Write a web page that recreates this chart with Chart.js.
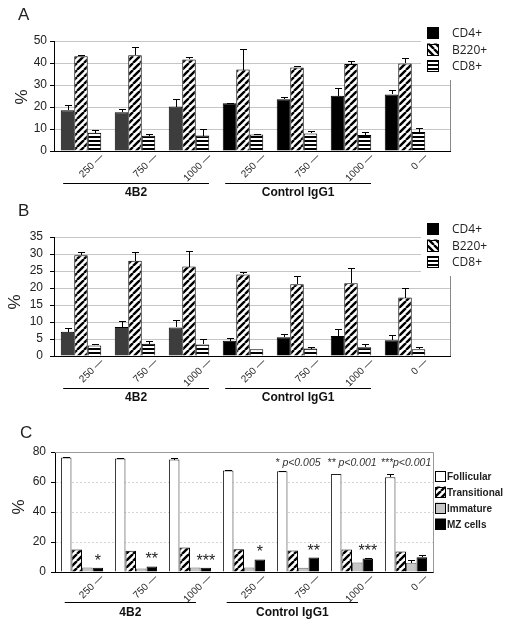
<!DOCTYPE html>
<html>
<head>
<meta charset="utf-8">
<script src="https://cdn.jsdelivr.net/npm/chart.js@4.4.1/dist/chart.umd.min.js"></script>
<style>
  html, body { margin: 0; padding: 0; background: #fff; }
  #wrap { position: relative; width: 512px; height: 629px; overflow: hidden; }
  canvas { position: absolute; left: 0; }
</style>
</head>
<body>
<div id="wrap">
  <canvas id="chartA" width="512" height="200" style="top:0"></canvas>
  <canvas id="chartB" width="512" height="215" style="top:196px"></canvas>
  <canvas id="chartC" width="512" height="229" style="top:400px"></canvas>
</div>
<script>
// DATA //

const doses = ['250 —', '750 —', '1000 —', '250 —', '750 —', '1000 —', '0 —'];
const groups = [
  { label: '4B2', from: 0, to: 2 },
  { label: 'Control IgG1', from: 3, to: 5 }
];

// panel A
const cd4A = [18.5, 17.6, 20.2, 21.7, 23.5, 25.1, 25.7];
const cd4ErrA = [2.5, 1.7, 3.6, 0.3, 1.2, 3.4, 1.9];
const b220A = [43.1, 43.5, 41.6, 37.0, 38.0, 39.5, 39.8];
const b220ErrA = [0.7, 4.0, 1.2, 9.2, 0.8, 1.6, 2.5];
const cd8A = [8.3, 6.9, 7.0, 7.5, 8.0, 7.3, 8.6];
const cd8ErrA = [1.4, 1.0, 2.8, 0.3, 1.3, 1.5, 2.0];

// panel B
const cd4B = [7.1, 8.5, 8.4, 4.5, 5.5, 5.9, 4.6];
const cd4ErrB = [1.2, 1.8, 2.1, 0.9, 0.9, 1.9, 1.5];
const b220B = [29.6, 28.0, 26.3, 24.0, 21.1, 21.4, 17.2];
const b220ErrB = [0.9, 2.7, 4.6, 0.8, 2.5, 4.6, 2.7];
const cd8B = [3.1, 3.6, 3.4, 2.0, 2.2, 2.6, 2.0];
const cd8ErrB = [0.3, 0.7, 1.5, 0, 0.4, 0.8, 0.6];

// panel C
const follicular = [76.3, 75.6, 75.0, 67.7, 67.2, 65.3, 63.2];
const follicularErr = [0.4, 0.4, 1.2, 0.3, 0.3, 0, 2.0];
const transitional = [15.0, 14.2, 16.3, 15.2, 14.4, 15.0, 13.6];
const immature = [3.0, 2.4, 3.0, 3.0, 2.8, 6.4, 6.2];
const immatureErr = [0, 0, 0, 0, 0, 0, 1.6];
const mzCells = [2.9, 3.7, 2.9, 8.4, 9.6, 9.0, 9.8];
const mzErr = [0, 0, 0, 0, 0, 0.4, 1.3];
const stars = ['*', '**', '***', '*', '**', '***', ''];
const pNotes = ['', '', '', '', '* p<0.005', '** p<0.001', '***p<0.001'];

// PATTERNS //

function diagPattern(dir) {
  const s = 7;
  const c = document.createElement('canvas');
  c.width = s; c.height = s;
  const g = c.getContext('2d');
  g.fillStyle = '#fff';
  g.fillRect(0, 0, s, s);
  g.strokeStyle = '#000';
  g.lineWidth = 2.4;
  g.beginPath();
  for (let k = -1; k <= 1; k++) {
    if (dir === '/') { g.moveTo(k * s, s); g.lineTo(k * s + s, 0); }
    else { g.moveTo(k * s, 0); g.lineTo(k * s + s, s); }
  }
  g.stroke();
  return g.createPattern(c, 'repeat');
}

function stripePattern() {
  const c = document.createElement('canvas');
  c.width = 4; c.height = 4;
  const g = c.getContext('2d');
  g.fillStyle = '#fff';
  g.fillRect(0, 0, 4, 4);
  g.fillStyle = '#000';
  g.fillRect(0, 0, 4, 2);
  return g.createPattern(c, 'repeat');
}

const slash = diagPattern('/');
const backslash = diagPattern('\\');
const stripes = stripePattern();

const FONT = '"Liberation Sans", Arial, sans-serif';

// PLUGINS //

const errorBars = {
  id: 'errorBars',
  afterDatasetsDraw(chart) {
    const { ctx, scales: { y } } = chart;
    ctx.save();
    ctx.strokeStyle = '#000';
    ctx.lineWidth = 1;
    chart.data.datasets.forEach((ds, i) => {
      if (!ds.errors) return;
      chart.getDatasetMeta(i).data.forEach((bar, j) => {
        const e = ds.errors[j];
        if (!e) return;
        const x = Math.round(bar.x) + 0.5;
        const top = Math.round(y.getPixelForValue(ds.data[j] + e)) + 0.5;
        ctx.beginPath();
        ctx.moveTo(x, Math.round(bar.y));
        ctx.lineTo(x, top);
        ctx.moveTo(x - 3.5, top);
        ctx.lineTo(x + 3.5, top);
        ctx.stroke();
      });
    });
    ctx.restore();
  }
};

function line(ctx, x0, y0, x1, y1) {
  ctx.beginPath();
  ctx.moveTo(x0, y0);
  ctx.lineTo(x1, y1);
  ctx.stroke();
}

function decor(cfg) {
  return {
    id: 'decor',
    afterDraw(chart) {
      const { ctx, chartArea: a, scales: { x, y } } = chart;
      const w = x.getPixelForValue(1) - x.getPixelForValue(0);
      const axisY = Math.round(a.bottom - 0.5) + 0.5;
      ctx.save();
      ctx.lineWidth = 1;

      // plot area continues a little past the last category
      if (cfg.plotRight) {
        ctx.strokeStyle = cfg.gridColor;
        y.ticks.forEach(t => {
          if (t.value === 0) return;
          const py = Math.round(y.getPixelForValue(t.value) - 0.5) + 0.5;
          line(ctx, a.right, py, cfg.plotRight, py);
        });
        ctx.strokeStyle = '#888';
        line(ctx, cfg.plotRight + 0.5, cfg.legendBottom, cfg.plotRight + 0.5, axisY);
        ctx.strokeStyle = '#000';
        line(ctx, a.right - 1, axisY, cfg.plotRight + 1, axisY);
      }
      if (cfg.box) {
        ctx.strokeStyle = '#999';
        const ty = Math.round(a.top - 0.5) + 0.5;
        const rx = Math.round(a.right - 0.5) + 0.5;
        line(ctx, a.left, ty, rx, ty);
        line(ctx, rx, ty, rx, axisY);
      }

      // legend
      const lg = cfg.legend;
      if (lg.bg) {
        ctx.fillStyle = '#fff';
        ctx.fillRect(lg.x - 6, 0, 200, lg.bg);
      }
      ctx.font = lg.font;
      ctx.textBaseline = 'middle';
      ctx.textAlign = 'left';
      lg.items.forEach((it, i) => {
        const cy = lg.y + i * lg.step;
        ctx.fillStyle = it.fill;
        ctx.fillRect(lg.x, cy - lg.size / 2, lg.size, lg.size);
        ctx.strokeStyle = '#000';
        ctx.strokeRect(lg.x + 0.5, Math.round(cy - lg.size / 2) + 0.5, lg.size - 1, lg.size - 1);
        ctx.fillStyle = '#222';
        ctx.fillText(it.label, lg.textX, cy + 1);
      });

      // panel letter and axis title
      ctx.fillStyle = '#222';
      ctx.font = '17px ' + FONT;
      ctx.fillText(cfg.letter, cfg.letterX, cfg.letterY);
      ctx.save();
      ctx.translate(cfg.pctX, cfg.pctY);
      ctx.rotate(-Math.PI / 2);
      ctx.textAlign = 'center';
      ctx.font = '17px ' + FONT;
      ctx.fillText('%', 0, 0);
      ctx.restore();

      // treatment groups under the axis
      ctx.strokeStyle = '#000';
      ctx.fillStyle = '#111';
      ctx.font = 'bold 12px ' + FONT;
      ctx.textAlign = 'center';
      groups.forEach(gr => {
        const x0 = x.getPixelForValue(gr.from) + cfg.lineL * w;
        const x1 = x.getPixelForValue(gr.to) + cfg.lineR * w;
        const ly = Math.round(a.bottom + cfg.lineDy) + 0.5;
        line(ctx, x0, ly, x1, ly);
        ctx.fillText(gr.label, (x0 + x1) / 2, a.bottom + cfg.textDy);
      });

      if (cfg.extra) cfg.extra(chart);
      ctx.restore();
    }
  };
}

// CHARTS //

function scales(max, step, gridColor, tickPad, labelOffset, yWidth, xHeight, dash) {
  return {
    x: {
      grid: { display: false, drawTicks: false },
      border: { color: '#000' },
      ticks: {
        minRotation: 45, maxRotation: 45, autoSkip: false,
        padding: 0, labelOffset: labelOffset,
        color: '#222', font: { family: FONT, size: 10 }
      },
      afterFit: s => { s.height = xHeight; }
    },
    y: {
      min: 0, max: max,
      ticks: { stepSize: step, autoSkip: false, padding: tickPad, color: '#222', font: { family: FONT, size: 12 } },
      grid: { color: gridColor, tickColor: '#000', tickLength: 4 },
      border: { color: '#000', dash: dash || [] },
      afterFit: s => { s.width = yWidth; }
    }
  };
}

function cellPanel(id, letter, cd4, cd4Err, b220, b220Err, cd8, cd8Err, max, step, top, height, cfg) {
  const gridColor = '#c6c6c6';
  return new Chart(document.getElementById(id), {
    type: 'bar',
    data: {
      labels: doses,
      datasets: [
        { label: 'CD4+', data: cd4, errors: cd4Err,
          backgroundColor: doses.map((d, i) => i < 3 ? '#3d3d3d' : '#000'),
          borderColor: '#000', borderWidth: 1 },
        { label: 'B220+', data: b220, errors: b220Err, backgroundColor: slash, borderColor: '#000', borderWidth: 1 },
        { label: 'CD8+', data: cd8, errors: cd8Err, backgroundColor: stripes, borderColor: '#000', borderWidth: 1 }
      ]
    },
    options: {
      responsive: false,
      animation: false,
      devicePixelRatio: 1,
      layout: { padding: { top: top, right: 80, left: 0, bottom: 0 } },
      datasets: { bar: { barPercentage: 1, categoryPercentage: 0.75 } },
      plugins: { legend: { display: false }, tooltip: { enabled: false } },
      scales: scales(max, step, gridColor, cfg.tickPad, 21, 54, height - top - cfg.plotH)
    },
    plugins: [errorBars, decor({
      letter: letter, letterX: 18, letterY: 15,
      pctX: cfg.pctX, pctY: cfg.pctY,
      gridColor: gridColor, plotRight: 450, legendBottom: 80,
      lineL: -0.33, lineR: 0.37, lineDy: 32, textDy: 42,
      legend: {
        x: 427, y: 33, step: 16.5, size: 12, textX: 452, bg: 80,
        font: '12px "Open Sans", sans-serif',
        items: [
          { label: 'CD4+', fill: '#000' },
          { label: 'B220+', fill: backslash },
          { label: 'CD8+', fill: stripes }
        ]
      }
    })]
  });
}

cellPanel('chartA', 'A', cd4A, cd4ErrA, b220A, b220ErrA, cd8A, cd8ErrA, 50, 10, 41, 200,
  { tickPad: 3, pctX: 22, pctY: 97, plotH: 110 });
cellPanel('chartB', 'B', cd4B, cd4ErrB, b220B, b220ErrB, cd8B, cd8ErrB, 35, 5, 41, 215,
  { tickPad: 7, pctX: 15, pctY: 106, plotH: 119 });

// PANEL C //

new Chart(document.getElementById('chartC'), {
  type: 'bar',
  data: {
    labels: doses,
    datasets: [
      { label: 'Follicular', data: follicular, errors: follicularErr, backgroundColor: '#fff', borderColor: '#222', borderWidth: 1 },
      { label: 'Transitional', data: transitional, backgroundColor: slash, borderColor: '#000', borderWidth: 1 },
      { label: 'Immature', data: immature, errors: immatureErr, backgroundColor: '#c6c6c6', borderColor: '#666', borderWidth: 1 },
      { label: 'MZ cells', data: mzCells, errors: mzErr, backgroundColor: '#000', borderColor: '#000', borderWidth: 1 }
    ]
  },
  options: {
    responsive: false,
    animation: false,
    devicePixelRatio: 1,
    layout: { padding: { top: 52, right: 79, left: 0, bottom: 0 } },
    datasets: { bar: { barPercentage: 1, categoryPercentage: 0.78 } },
    plugins: { legend: { display: false }, tooltip: { enabled: false } },
    scales: scales(80, 20, '#d4d4d4', 5, 20, 55, 229 - 172, [2, 2])
  },
  plugins: [errorBars, decor({
    letter: 'C', letterX: 20, letterY: 33,
    pctX: 19, pctY: 107,
    box: true,
    lineL: -0.32, lineR: 0.11, lineDy: 30, textDy: 41,
    legend: {
      x: 435, y: 76, step: 16, size: 11, textX: 447,
      font: 'bold 10px "Liberation Sans", sans-serif',
      items: [
        { label: 'Follicular', fill: '#fff' },
        { label: 'Transitional', fill: slash },
        { label: 'Immature', fill: '#c6c6c6' },
        { label: 'MZ cells', fill: '#000' }
      ]
    },
    extra(chart) {
      const { ctx, chartArea: a, scales: { y } } = chart;
      const mz = chart.getDatasetMeta(3).data;
      ctx.textAlign = 'center';
      ctx.textBaseline = 'alphabetic';
      ctx.fillStyle = '#222';
      ctx.font = '16px ' + FONT;
      stars.forEach((s, j) => {
        if (!s) return;
        const topY = y.getPixelForValue(mzCells[j] + mzErr[j]);
        ctx.fillText(s, mz[j].x, topY - 2);
      });
      ctx.font = 'italic 10.5px ' + FONT;
      ctx.fillStyle = '#333';
      ctx.textBaseline = 'middle';
      pNotes.forEach((p, j) => {
        if (!p) return;
        ctx.fillText(p, chart.scales.x.getPixelForValue(j), a.top + 11);
      });
    }
  })]
});
</script>
</body>
</html>
